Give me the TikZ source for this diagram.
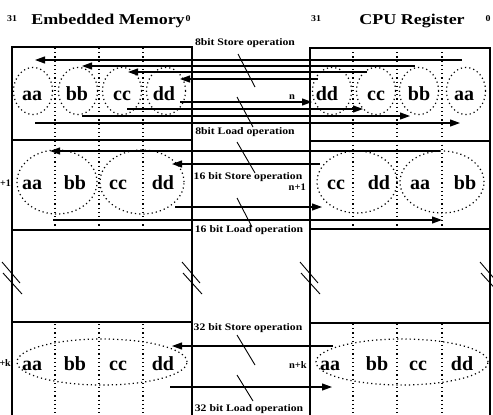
\documentclass[tikz,border=0pt]{standalone}
\usepackage{fontspec}
\setmainfont{Liberation Serif}
\usetikzlibrary{arrows.meta}
\newcommand{\sx}[2]{\scalebox{#1}[1]{#2}}
\begin{document}
\begin{tikzpicture}[x=1pt,y=-1pt,
  box/.style={line width=1.3pt},
  ln/.style={line width=1.1pt},
  arr/.style={line width=1.1pt,-{Triangle[length=10pt,width=7pt]}},
  lead/.style={line width=0.9pt},
  dotl/.style={line width=1.2pt,dash pattern=on 1.2pt off 3pt},
  cell/.style={font=\bfseries\fontsize{20}{20}\selectfont,inner sep=0pt,anchor=base},
  op/.style={font=\bfseries\fontsize{10}{10}\selectfont,inner sep=0pt},
  nlab/.style={font=\bfseries\fontsize{10}{10}\selectfont,inner sep=0pt},
  ttl/.style={font=\bfseries\fontsize{15}{15}\selectfont,inner sep=0pt,anchor=base},
  bitn/.style={font=\bfseries\fontsize{9}{9}\selectfont,inner sep=0pt,anchor=base}]
\useasboundingbox (0,0) rectangle (493,415);
\clip (0,0) rectangle (493,415);

% ---------- titles
\node[bitn] (t31l) at (12,21) {\sx{1.1}{31}};
\node[ttl]  (tem)  at (108,24) {\sx{1.2}{Embedded Memory}};
\node[bitn] (t0l)  at (188,21) {\sx{1.1}{0}};
\node[bitn] (t31r) at (316,21) {\sx{1.1}{31}};
\node[ttl]  (tcpu) at (412,24) {\sx{1.2}{CPU Register}};
\node[bitn] (t0r)  at (488,21) {\sx{1.1}{0}};

% ---------- boxes
\draw[box] (12,420) -- (12,47) -- (192,47) -- (192,420);
\draw[box] (310,420) -- (310,48) -- (490,48) -- (490,420);
\foreach \y in {140,230,322} {\draw[box] (12,\y) -- (192,\y);}
\foreach \y in {141,229,323} {\draw[box] (310,\y) -- (490,\y);}

% dotted column lines
\foreach \x in {55,99,143,353,397,442} {
  \draw[dotl] (\x,48) -- (\x,229);
  \draw[dotl] (\x,324) -- (\x,415);
}

% break marks
\foreach \x in {12,192,310,490} {
  \draw[lead] (\x-10,262) -- (\x+8,283);
  \draw[lead] (\x-9,273) -- (\x+10,294);
}

% ---------- 8 bit row
\foreach \c in {33,78,122,166,332,376,419,466}
  {\draw[dotl] (\c,91) ellipse [x radius=19.5pt, y radius=23.5pt];}
\node[cell] (l8a) at (32,100) {aa};
\node[cell] (l8b) at (77,100) {bb};
\node[cell] (l8c) at (122,100) {cc};
\node[cell] (l8d) at (164,100) {dd};
\node[cell] (r8d) at (327,100) {dd};
\node[cell] (r8c) at (376,100) {cc};
\node[cell] (r8b) at (419,100) {bb};
\node[cell] (r8a) at (464,100) {aa};

% store (CPU -> memory)
\draw[arr] (462,60) coordinate (s8a) -- (35,60) coordinate (e8a);
\draw[arr] (415,66) coordinate (s8b) -- (82,66) coordinate (e8b);
\draw[arr] (367,72) coordinate (s8c) -- (128,72) coordinate (e8c);
\draw[arr] (318,79) coordinate (s8d) -- (180,79) coordinate (e8d);
% load (memory -> CPU)
\draw[arr] (180,102) coordinate (ld8d) -- (312,102) coordinate (le8d);
\draw[arr] (127,109) coordinate (ld8c) -- (363,109) coordinate (le8c);
\draw[arr] (82,116) coordinate (ld8b) -- (410,116) coordinate (le8b);
\draw[arr] (35,123) coordinate (ld8a) -- (460,123) coordinate (le8a);
\node[nlab] (n8) at (292,97) {\sx{1.05}{n}};

\node[op] (op8s) at (245,43) {\sx{1.17}{8bit Store operation}};
\node[op] (op8l) at (245,132) {\sx{1.17}{8bit Load operation}};
\draw[lead] (238,54) coordinate (a8s) -- (255,87) coordinate (b8s);
\draw[lead] (237,97) coordinate (a8l) -- (253,127) coordinate (b8l);

% ---------- 16 bit row
\draw[dotl] (57,182) ellipse [x radius=40pt, y radius=32pt];
\draw[dotl] (142,182) ellipse [x radius=42pt, y radius=32pt];
\draw[dotl] (357,182) ellipse [x radius=40pt, y radius=31pt];
\draw[dotl] (442,182) ellipse [x radius=42pt, y radius=31pt];
\node[cell] (l16a) at (32,189) {aa};
\node[cell] (l16b) at (75,189) {bb};
\node[cell] (l16c) at (118,189) {cc};
\node[cell] (l16d) at (163,189) {dd};
\node[cell] (r16c) at (336,189) {cc};
\node[cell] (r16d) at (379,189) {dd};
\node[cell] (r16a) at (420,189) {aa};
\node[cell] (r16b) at (465,189) {bb};

\draw[arr] (440,151) coordinate (s16a) -- (50,151) coordinate (e16a);
\draw[arr] (320,164) coordinate (s16c) -- (172,164) coordinate (e16c);
\draw[arr] (175,207) coordinate (ld16c) -- (322,207) coordinate (le16c);
\draw[arr] (53,220) coordinate (ld16a) -- (442,220) coordinate (le16a);
\node[nlab,anchor=east] (n16) at (306,187) {\sx{1.05}{n+1}};
\node[nlab,anchor=east] (n16l) at (11,183) {+1};

\node[op] (op16s) at (248,177) {\sx{1.17}{16 bit Store operation}};
\node[op] (op16l) at (249,230) {\sx{1.17}{16 bit Load operation}};
\draw[lead] (237,142) coordinate (a16s) -- (255,173) coordinate (b16s);
\draw[lead] (237,198) coordinate (a16l) -- (252,227) coordinate (b16l);

% ---------- 32 bit row
\draw[dotl] (102,362) ellipse [x radius=85pt, y radius=23pt];
\draw[dotl] (402,362) ellipse [x radius=86pt, y radius=23pt];
\node[cell] (l32a) at (32,370) {aa};
\node[cell] (l32b) at (75,370) {bb};
\node[cell] (l32c) at (118,370) {cc};
\node[cell] (l32d) at (163,370) {dd};
\node[cell] (r32a) at (330,370) {aa};
\node[cell] (r32b) at (377,370) {bb};
\node[cell] (r32c) at (418,370) {cc};
\node[cell] (r32d) at (462,370) {dd};

\draw[arr] (333,346) coordinate (s32) -- (172,346) coordinate (e32);
\draw[arr] (170,387) coordinate (ld32) -- (332,387) coordinate (le32);
\node[nlab,anchor=east] (n32) at (307,365) {\sx{1.05}{n+k}};
\node[nlab,anchor=east] (n32l) at (11,363) {+k};

\node[op] (op32s) at (248,328) {\sx{1.17}{32 bit Store operation}};
\node[op] (op32l) at (249,409) {\sx{1.17}{32 bit Load operation}};
\draw[lead] (237,335) coordinate (a32s) -- (255,365) coordinate (b32s);
\draw[lead] (237,375) coordinate (a32l) -- (253,401) coordinate (b32l);
\end{tikzpicture}
\end{document}
